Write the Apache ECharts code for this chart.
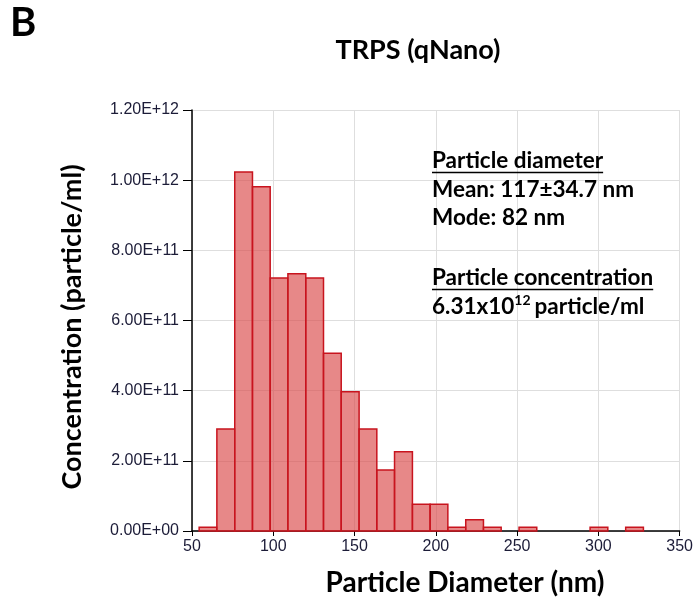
<!DOCTYPE html>
<html>
<head>
<meta charset="utf-8">
<script src="https://cdn.jsdelivr.net/npm/echarts@6/dist/echarts.min.js"></script>
<style>
  html, body { margin: 0; padding: 0; background: #fff; }
  #chart { width: 696px; height: 607px; }
</style>
</head>
<body>
<div id="chart"></div>
<script>
// histogram bins (nm) and concentration (particle/ml)
const binLeft = [54.4, 65.3, 76.3, 87.2, 98.1, 109.0, 120.0, 130.9, 141.8, 152.8,
  163.7, 174.6, 185.6, 196.5, 207.4, 218.4, 229.3, 251.2, 294.9, 316.8];
const binRight = [65.3, 76.3, 87.2, 98.1, 109.0, 120.0, 130.9, 141.8, 152.8, 163.7,
  174.6, 185.6, 196.5, 207.4, 218.4, 229.3, 240.2, 262.1, 305.8, 327.7];
const concentration = [1.1e10, 2.91e11, 1.023e12, 9.81e11, 7.21e11, 7.33e11, 7.21e11, 5.07e11, 3.97e11, 2.91e11,
  1.74e11, 2.26e11, 7.6e10, 7.6e10, 1.1e10, 3.2e10, 1.1e10, 1.1e10, 1.1e10, 1.1e10];

const xTicks = [50, 100, 150, 200, 250, 300, 350];
const yTicks = [0, 2e11, 4e11, 6e11, 8e11, 1e12, 1.2e12];

const statLines = [
  { text: "Particle diameter", underline: true },
  { text: "Mean: 117\u00b134.7 nm" },
  { text: "Mode: 82 nm" },
  { text: "Particle concentration", underline: true },
];

const FONT = "Lato, 'Open Sans', sans-serif";
const TICK_FONT = "'Liberation Sans', Arial, sans-serif";

function sciLabel(v) {
  const [m, e] = Number(v).toExponential(2).split("e");
  return m + "E" + e[0] + e.slice(1).padStart(2, "0");
}

const measureCtx = document.createElement("canvas").getContext("2d");
function textWidth(text, size) {
  measureCtx.font = "bold " + size + "px " + FONT;
  return measureCtx.measureText(text).width;
}

const histData = binLeft.map((l, i) => [l, binRight[i], concentration[i]]);

const chart = echarts.init(document.getElementById("chart"));

const annX = 432;
const annY = [161, 190, 218, 278];
const annSize = 22.5;
const txt = (x, y, text, size, extra) => ({
  type: "text", x, y, z: 100,
  style: Object.assign({ text, font: "bold " + size + "px " + FONT, fill: "#000", verticalAlign: "middle" }, extra || {}),
});
const graphics = [
  { type: "text", left: 10, top: 3, z: 100, style: { text: "B", font: "bold 40px " + FONT, fill: "#000" } },
  txt(418, 50, "TRPS (qNano)", 27, { align: "center" }),
  txt(465, 583, "Particle Diameter (nm)", 28, { align: "center" }),
  Object.assign(txt(72, 327, "Concentration (particle/ml)", 27, { align: "center" }), { rotation: Math.PI / 2 }),
];
statLines.forEach((ln, i) => {
  graphics.push(txt(annX, annY[i], ln.text, annSize));
  if (ln.underline) {
    graphics.push({
      type: "line", z: 100,
      shape: { x1: annX, y1: annY[i] + 11.5, x2: annX + textWidth(ln.text, annSize), y2: annY[i] + 11.5 },
      style: { stroke: "#000", lineWidth: 1.5 },
    });
  }
});
// 6.31x10^12 particle/ml with superscript
const concA = "6.31x10";
const wA = textWidth(concA, annSize);
graphics.push(txt(annX, 307, concA, annSize));
graphics.push(txt(annX + wA, 300, "12", 14));
graphics.push(txt(annX + wA + textWidth("12", 14) + 4, 307, "particle/ml", annSize));

chart.setOption({
  animation: false,
  grid: { left: 192, right: 13, top: 110, bottom: 76, containLabel: false },
  graphic: graphics,
  xAxis: {
    type: "value",
    min: xTicks[0],
    max: xTicks[xTicks.length - 1],
    interval: 50,
    axisLine: { onZero: false, lineStyle: { color: "#000", width: 1.5 } },
    axisTick: { show: true, length: 5, lineStyle: { color: "#000" } },
    axisLabel: { fontFamily: TICK_FONT, fontSize: 16, color: "#1c1c38", margin: 8 },
    splitLine: { show: true, lineStyle: { color: "#dedede", width: 1 } },
  },
  yAxis: {
    type: "value",
    min: yTicks[0],
    max: yTicks[yTicks.length - 1],
    interval: 2e11,
    axisLine: { show: true, lineStyle: { color: "#000", width: 1.5 } },
    axisTick: { show: true, length: 9, lineStyle: { color: "#000" } },
    axisLabel: { fontFamily: TICK_FONT, fontSize: 16, color: "#1c1c38", margin: 13, formatter: sciLabel },
    splitLine: { show: true, lineStyle: { color: "#dedede", width: 1 } },
  },
  series: [
    {
      type: "custom",
      data: histData,
      encode: { x: [0, 1], y: 2 },
      renderItem: (params, api) => {
        const p0 = api.coord([api.value(0), api.value(2)]);
        const p1 = api.coord([api.value(1), 0]);
        return {
          type: "rect",
          shape: { x: p0[0], y: p0[1], width: p1[0] - p0[0], height: p1[1] - p0[1] },
          style: { fill: "rgba(220,80,80,0.68)", stroke: "#c8141e", lineWidth: 1.5 },
        };
      },
    },
  ],
});
</script>
</body>
</html>
